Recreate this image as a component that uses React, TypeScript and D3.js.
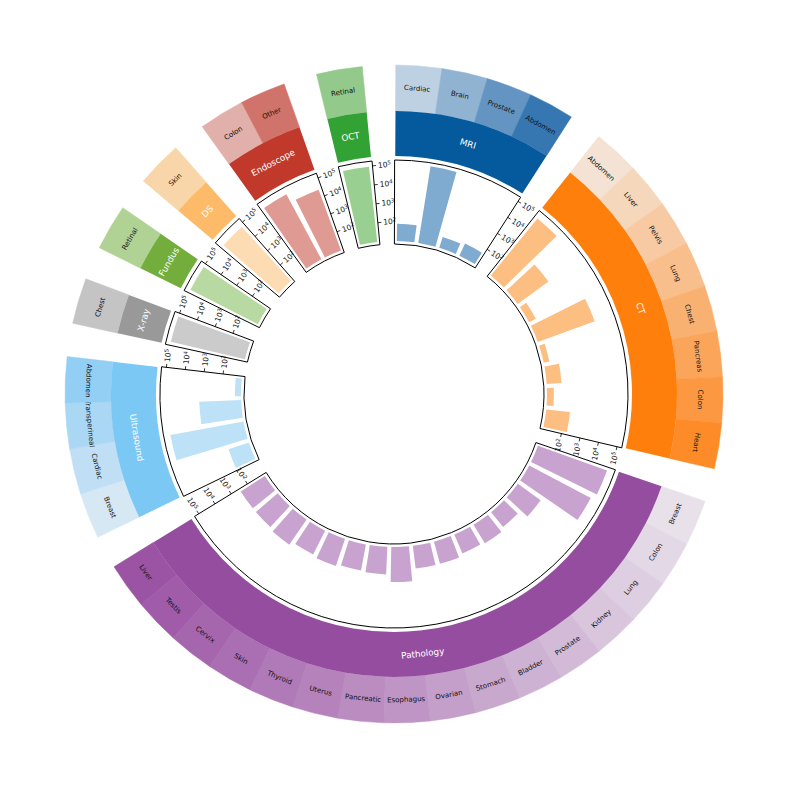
import React, { useEffect, useRef } from 'react';
import * as d3 from 'd3';

// dataset counts per modality / organ (log scale)
const mriOrgans = ['Cardiac', 'Brain', 'Prostate', 'Abdomen'];
const mriCounts = [80, 120000, 40, 50];

const ctOrgans = ['Abdomen', 'Liver', 'Pelvis', 'Lung', 'Chest', 'Pancreas', 'Colon', 'Heart'];
const ctCounts = [75000, 1000, 25, 15000, 20, 60, 23, 180];

const pathologyOrgans = ['Breast', 'Colon', 'Lung', 'Kidney', 'Prostate', 'Bladder', 'Stomach', 'Ovarian',
  'Esophagus', 'Pancreatic', 'Uterus', 'Thyroid', 'Skin', 'Cervix', 'Testis', 'Liver'];
const pathologyCounts = [72000, 45000, 300, 100, 140, 120, 160, 160, 700, 280, 250, 320, 250, 400, 320, 320];

const ultrasoundOrgans = ['Breast', 'Cardiac', 'Transperineal', 'Abdomen'];
const ultrasoundCounts = [135, 80000, 1600, 21];

const xrayOrgans = ['Chest'];
const xrayCounts = [100000];

const fundusOrgans = ['Retinal'];
const fundusCounts = [95000];

const dsOrgans = ['Skin'];
const dsCounts = [70000];

const endoscopeOrgans = ['Colon', 'Other'];
const endoscopeCounts = [76000, 25000];

const octOrgans = ['Retinal'];
const octCounts = [95000];

const tickValues = [1e2, 1e3, 1e4, 1e5];

const groups = [
  { name: 'MRI', organs: mriOrgans, counts: mriCounts },
  { name: 'CT', organs: ctOrgans, counts: ctCounts },
  { name: 'Pathology', organs: pathologyOrgans, counts: pathologyCounts },
  { name: 'Ultrasound', organs: ultrasoundOrgans, counts: ultrasoundCounts },
  { name: 'X-ray', organs: xrayOrgans, counts: xrayCounts },
  { name: 'Fundus', organs: fundusOrgans, counts: fundusCounts },
  { name: 'DS', organs: dsOrgans, counts: dsCounts },
  { name: 'Endoscope', organs: endoscopeOrgans, counts: endoscopeCounts },
  { name: 'OCT', organs: octOrgans, counts: octCounts },
];

const colors = {
  'MRI': { dark: '#045a9c', light: '#bed1e3', lightEnd: '#3777b1', bar: '#80abd1' },
  'CT': { dark: '#fe7f0c', light: '#f4e3d5', lightEnd: '#fd8c28', bar: '#fdbe82' },
  'Pathology': { dark: '#954d9f', light: '#e8e1ea', lightEnd: '#9b53a4', bar: '#c9a3d0' },
  'Ultrasound': { dark: '#7cc8f5', light: '#d6e8f4', lightEnd: '#93cef4', bar: '#bde2f7' },
  'X-ray': { dark: '#999999', light: '#c4c4c4', lightEnd: '#c4c4c4', bar: '#cbcbcb' },
  'Fundus': { dark: '#73ae3c', light: '#b0d395', lightEnd: '#b0d395', bar: '#b8d9a1' },
  'DS': { dark: '#fdbb6a', light: '#f8d6a9', lightEnd: '#f8d6a9', bar: '#fedcb3' },
  'Endoscope': { dark: '#c0392b', light: '#e1b0ab', lightEnd: '#d0746b', bar: '#df9b93' },
  'OCT': { dark: '#33a235', light: '#93c98b', lightEnd: '#93c98b', bar: '#99cf91' },
};

const width = 789;
const height = 789;
const cx = 394;
const cy = 394;
const slot = 8.08;   // degrees per organ
const gap = 5.89;    // degrees between modalities
const startOffset = 0.3;
const font = 'DejaVu Sans, sans-serif';

const rad = (d: number) => d * Math.PI / 180;
// keep text readable: rotation within (-90, 90]
const readable = (deg: number) => {
  let a = ((deg % 360) + 360) % 360;
  if (a > 90 && a <= 270) a -= 180;
  else if (a > 270) a -= 360;
  return a;
};
// flip decided once per modality (from its middle angle)
const groupRotation = (deg: number, midDeg: number) => {
  const m = ((midDeg % 360) + 360) % 360;
  return m > 90 && m < 270 ? deg - 180 : deg;
};
const polar = (r: number, deg: number) => [r * Math.sin(rad(deg)), -r * Math.cos(rad(deg))];

const App = () => {
  const ref = useRef<SVGSVGElement>(null);

  useEffect(() => {
    const svg = d3.select(ref.current);
    svg.selectAll('*').remove();

    const g = svg.append('g').attr('transform', `translate(${cx},${cy})`);
    const r = d3.scaleLog().domain([10, 1.8e5]).range([153, 234]);
    const arc = d3.arc<any>();

    let angle = startOffset;
    groups.forEach(grp => {
      const n = grp.organs.length;
      const a0 = angle;
      const a1 = angle + n * slot;
      angle = a1 + gap;
      const c = colors[grp.name];
      const gm = (a0 + a1) / 2;

      // outer ring: organs
      grp.organs.forEach((org, i) => {
        const s = a0 + i * slot;
        const e = s + slot;
        const fill = n === 1 ? c.light : d3.interpolateRgb(c.light, c.lightEnd)(i / (n - 1));
        g.append('path')
          .attr('d', arc({ innerRadius: 283, outerRadius: 329, startAngle: rad(s), endAngle: rad(e) }))
          .attr('fill', fill)
          .attr('stroke', fill)
          .attr('stroke-width', 0.5);
        const mid = (s + e) / 2;
        const [x, y] = polar(306, mid);
        g.append('text')
          .attr('transform', `translate(${x},${y}) rotate(${groupRotation(mid, gm)})`)
          .attr('text-anchor', 'middle')
          .attr('dominant-baseline', 'central')
          .attr('font-family', font)
          .attr('font-size', 7)
          .attr('fill', '#111')
          .text(org);
      });

      // middle ring: modality
      g.append('path')
        .attr('d', arc({ innerRadius: 238, outerRadius: 283, startAngle: rad(a0), endAngle: rad(a1) }))
        .attr('fill', c.dark);
      const [gx, gy] = polar(261, gm);
      g.append('text')
        .attr('transform', `translate(${gx},${gy}) rotate(${groupRotation(gm, gm)})`)
        .attr('text-anchor', 'middle')
        .attr('dominant-baseline', 'central')
        .attr('font-family', font)
        .attr('font-size', 8.8)
        .attr('fill', 'white')
        .text(grp.name);

      // bars
      grp.counts.forEach((v, i) => {
        const mid = a0 + (i + 0.5) * slot;
        g.append('path')
          .attr('d', arc({ innerRadius: 153, outerRadius: r(v), startAngle: rad(mid - 3.3), endAngle: rad(mid + 3.3) }))
          .attr('fill', c.bar);
      });

      // frame
      const f0 = a0 - 0.15;
      const f1 = a1 + 0.15;
      g.append('path')
        .attr('d', arc({ innerRadius: 150, outerRadius: 234, startAngle: rad(f0), endAngle: rad(f1) }))
        .attr('fill', 'none')
        .attr('stroke', '#000')
        .attr('stroke-width', 1);

      // log axis on the clockwise end
      const tx = Math.cos(rad(f1));
      const ty = Math.sin(rad(f1));
      const rot = readable(f1);
      const dirX = Math.cos(rad(rot));
      const dirY = Math.sin(rad(rot));
      const anchor = dirX * tx + dirY * ty >= 0 ? 'start' : 'end';
      tickValues.forEach(tv => {
        const [px, py] = polar(r(tv), f1);
        g.append('line')
          .attr('x1', px).attr('y1', py)
          .attr('x2', px + 3.5 * tx).attr('y2', py + 3.5 * ty)
          .attr('stroke', '#000')
          .attr('stroke-width', 0.8);
        const lx = px + 5.5 * tx;
        const ly = py + 5.5 * ty;
        const t = g.append('text')
          .attr('transform', `translate(${lx},${ly}) rotate(${rot})`)
          .attr('text-anchor', anchor)
          .attr('font-family', font)
          .attr('font-size', 7.5)
          .attr('dy', '0.35em')
          .attr('fill', '#111');
        t.append('tspan').text('10');
        t.append('tspan')
          .attr('dy', '-0.45em')
          .attr('font-size', 5.5)
          .text(String(Math.round(Math.log10(tv))));
      });
    });
  }, []);

  return (
    <svg
      ref={ref}
      width={width}
      height={height}
      style={{ position: 'absolute', left: 0, top: 0, background: 'white' }}
    />
  );
};

export default App;
